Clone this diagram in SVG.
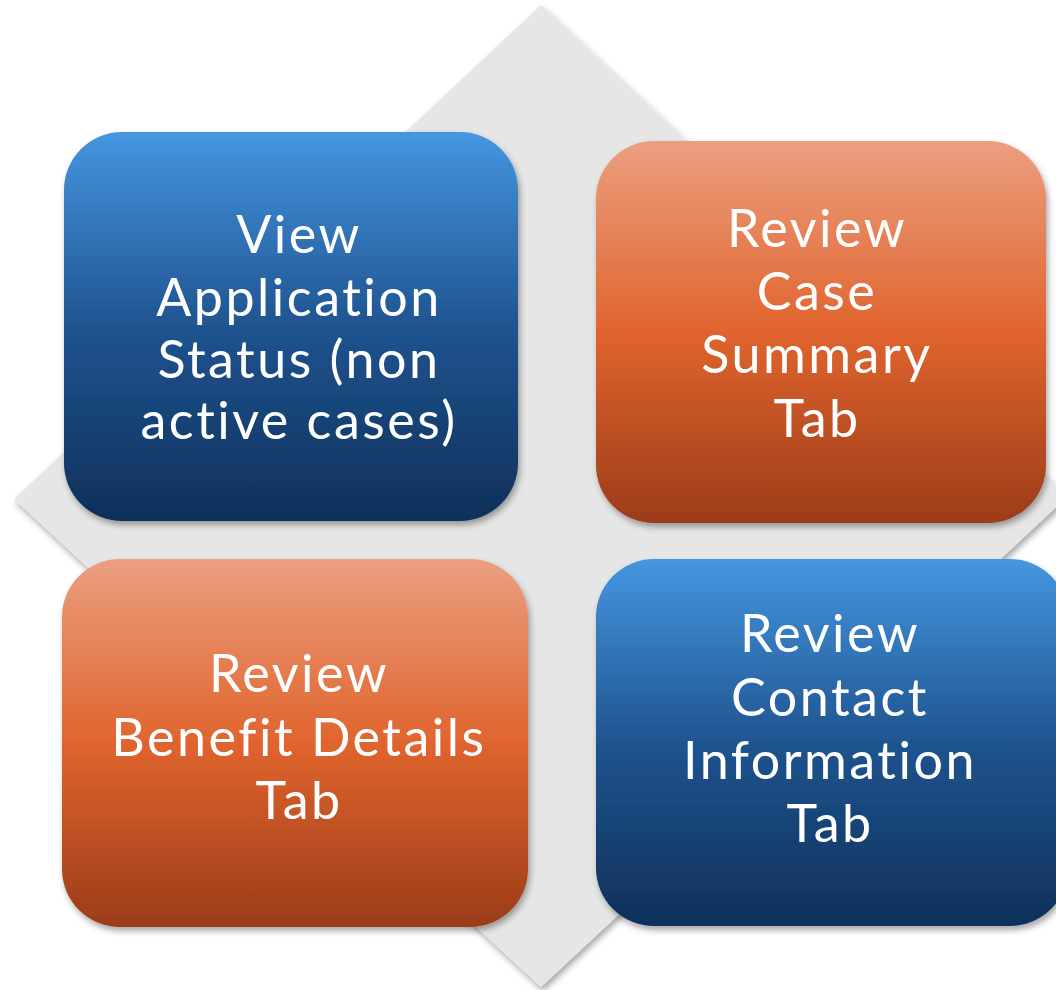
<svg xmlns="http://www.w3.org/2000/svg" width="1056" height="990" viewBox="0 0 1056 990">
<defs>
<linearGradient id="gBlue" x1="0" y1="0" x2="0" y2="1">
<stop offset="0" stop-color="#4596E0"/>
<stop offset="0.5" stop-color="#1F5490"/>
<stop offset="1" stop-color="#0F3059"/>
</linearGradient>
<linearGradient id="gOrange" x1="0" y1="0" x2="0" y2="1">
<stop offset="0" stop-color="#EB9F80"/>
<stop offset="0.5" stop-color="#E0642E"/>
<stop offset="1" stop-color="#9B3C19"/>
</linearGradient>
<filter id="sh" x="-10%" y="-10%" width="120%" height="120%">
<feDropShadow dx="2" dy="4" stdDeviation="3" flood-color="#000" flood-opacity="0.35"/>
</filter>
</defs>
<style>
.lbl{font-family:"Lato","Open Sans","Liberation Sans",sans-serif;font-weight:400;font-size:52px;letter-spacing:2.5px;font-variant-ligatures:none;fill:#fff;text-anchor:middle}
</style>
<g id="background">
<polygon points="541,5 1068,496 541,987 14,499" fill="#E6E6E6" filter="url(#sh)"/>
</g>
<g id="node1">
<rect x="64" y="132" width="454" height="389" rx="58" fill="url(#gBlue)" filter="url(#sh)"/>
<text class="lbl" x="299" y="253">View</text>
<text class="lbl" x="299" y="316">Application</text>
<text class="lbl" x="299" y="378">Status (non</text>
<text class="lbl" x="299" y="439">active cases)</text>
</g>
<g id="node2">
<rect x="596" y="141" width="450" height="382" rx="58" fill="url(#gOrange)" filter="url(#sh)"/>
<text class="lbl" x="817" y="247">Review</text>
<text class="lbl" x="817" y="310">Case</text>
<text class="lbl" x="817" y="373">Summary</text>
<text class="lbl" x="817" y="437">Tab</text>
</g>
<g id="node3">
<rect x="62" y="559" width="466" height="368" rx="58" fill="url(#gOrange)" filter="url(#sh)"/>
<text class="lbl" x="299" y="692">Review</text>
<text class="lbl" x="299" y="756">Benefit Details</text>
<text class="lbl" x="299" y="819">Tab</text>
</g>
<g id="node4">
<rect x="596" y="559" width="472" height="367" rx="58" fill="url(#gBlue)" filter="url(#sh)"/>
<text class="lbl" x="830" y="652">Review</text>
<text class="lbl" x="830" y="716">Contact</text>
<text class="lbl" x="830" y="779">Information</text>
<text class="lbl" x="830" y="842">Tab</text>
</g>
<g id="connectors"></g>
</svg>
